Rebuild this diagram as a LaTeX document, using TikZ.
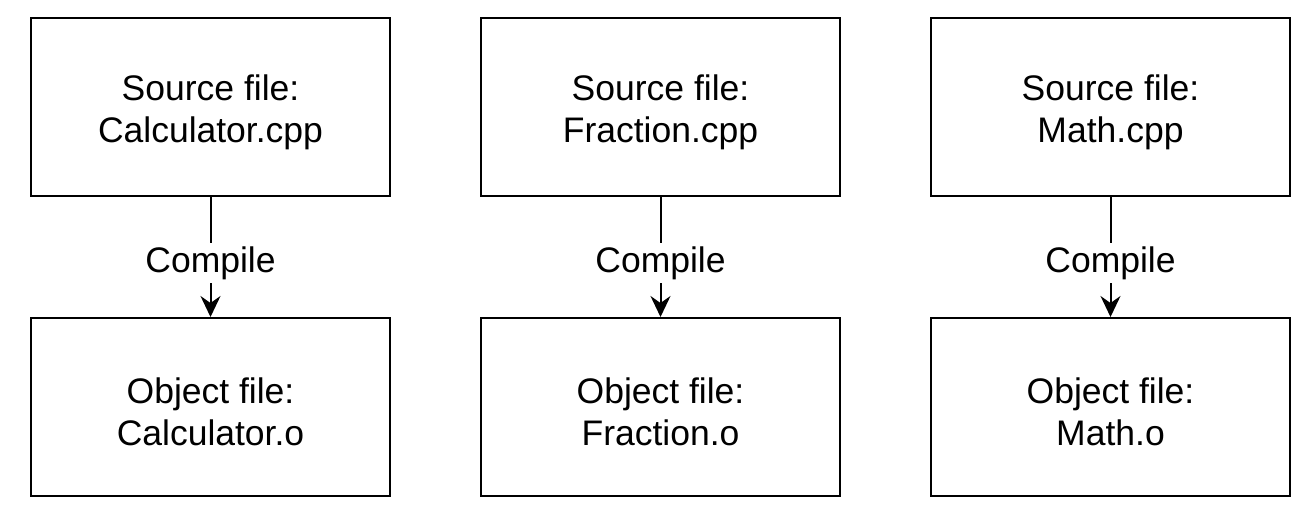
\documentclass[tikz,border=0pt]{standalone}
\usepackage{fontspec}
\setmainfont{Liberation Sans}
\usetikzlibrary{arrows.meta}

\tikzstyle{filebox}=[rectangle,
                        line width=2pt,
                        draw=black,
                        fill=white,
                        minimum width=359pt,
                        minimum height=178pt,
                        align=center,
                        font=\fontsize{35.5}{42}\selectfont]
\tikzstyle{step label}=[fill=white,
                        inner sep=3pt,
                        yshift=-6pt,
                        font=\fontsize{35.5}{42}\selectfont]

\begin{document}
\begin{tikzpicture}[>={Stealth[length=21pt,width=20pt,inset=7pt]}]
  \useasboundingbox (0pt,0pt) rectangle (1316pt,-514pt);
  % The files are placed using a matrix:
  \matrix[row sep=120pt,column sep=89pt] at (660.5pt,-257pt) {
        \node (S1) [filebox] {\rule{0pt}{36pt}Source file:\\Calculator.cpp};  &
        \node (S2) [filebox] {\rule{0pt}{36pt}Source file:\\Fraction.cpp};  &
        \node (S3) [filebox] {\rule{0pt}{36pt}Source file:\\Math.cpp};
		\\
        \node (O1) [filebox] {\rule{0pt}{36pt}Object file:\\Calculator.o};  &
        \node (O2) [filebox] {\rule{0pt}{36pt}Object file:\\Fraction.o};  &
        \node (O3) [filebox] {\rule{0pt}{36pt}Object file:\\Math.o};
		\\
    };

    % Each source file is compiled to its object file:
    \path[->]
        (S1) edge[line width=2pt] node[step label] {Compile} (O1)
        (S2) edge[line width=2pt] node[step label] {Compile} (O2)
        (S3) edge[line width=2pt] node[step label] {Compile} (O3)
;

\end{tikzpicture}
\end{document}
